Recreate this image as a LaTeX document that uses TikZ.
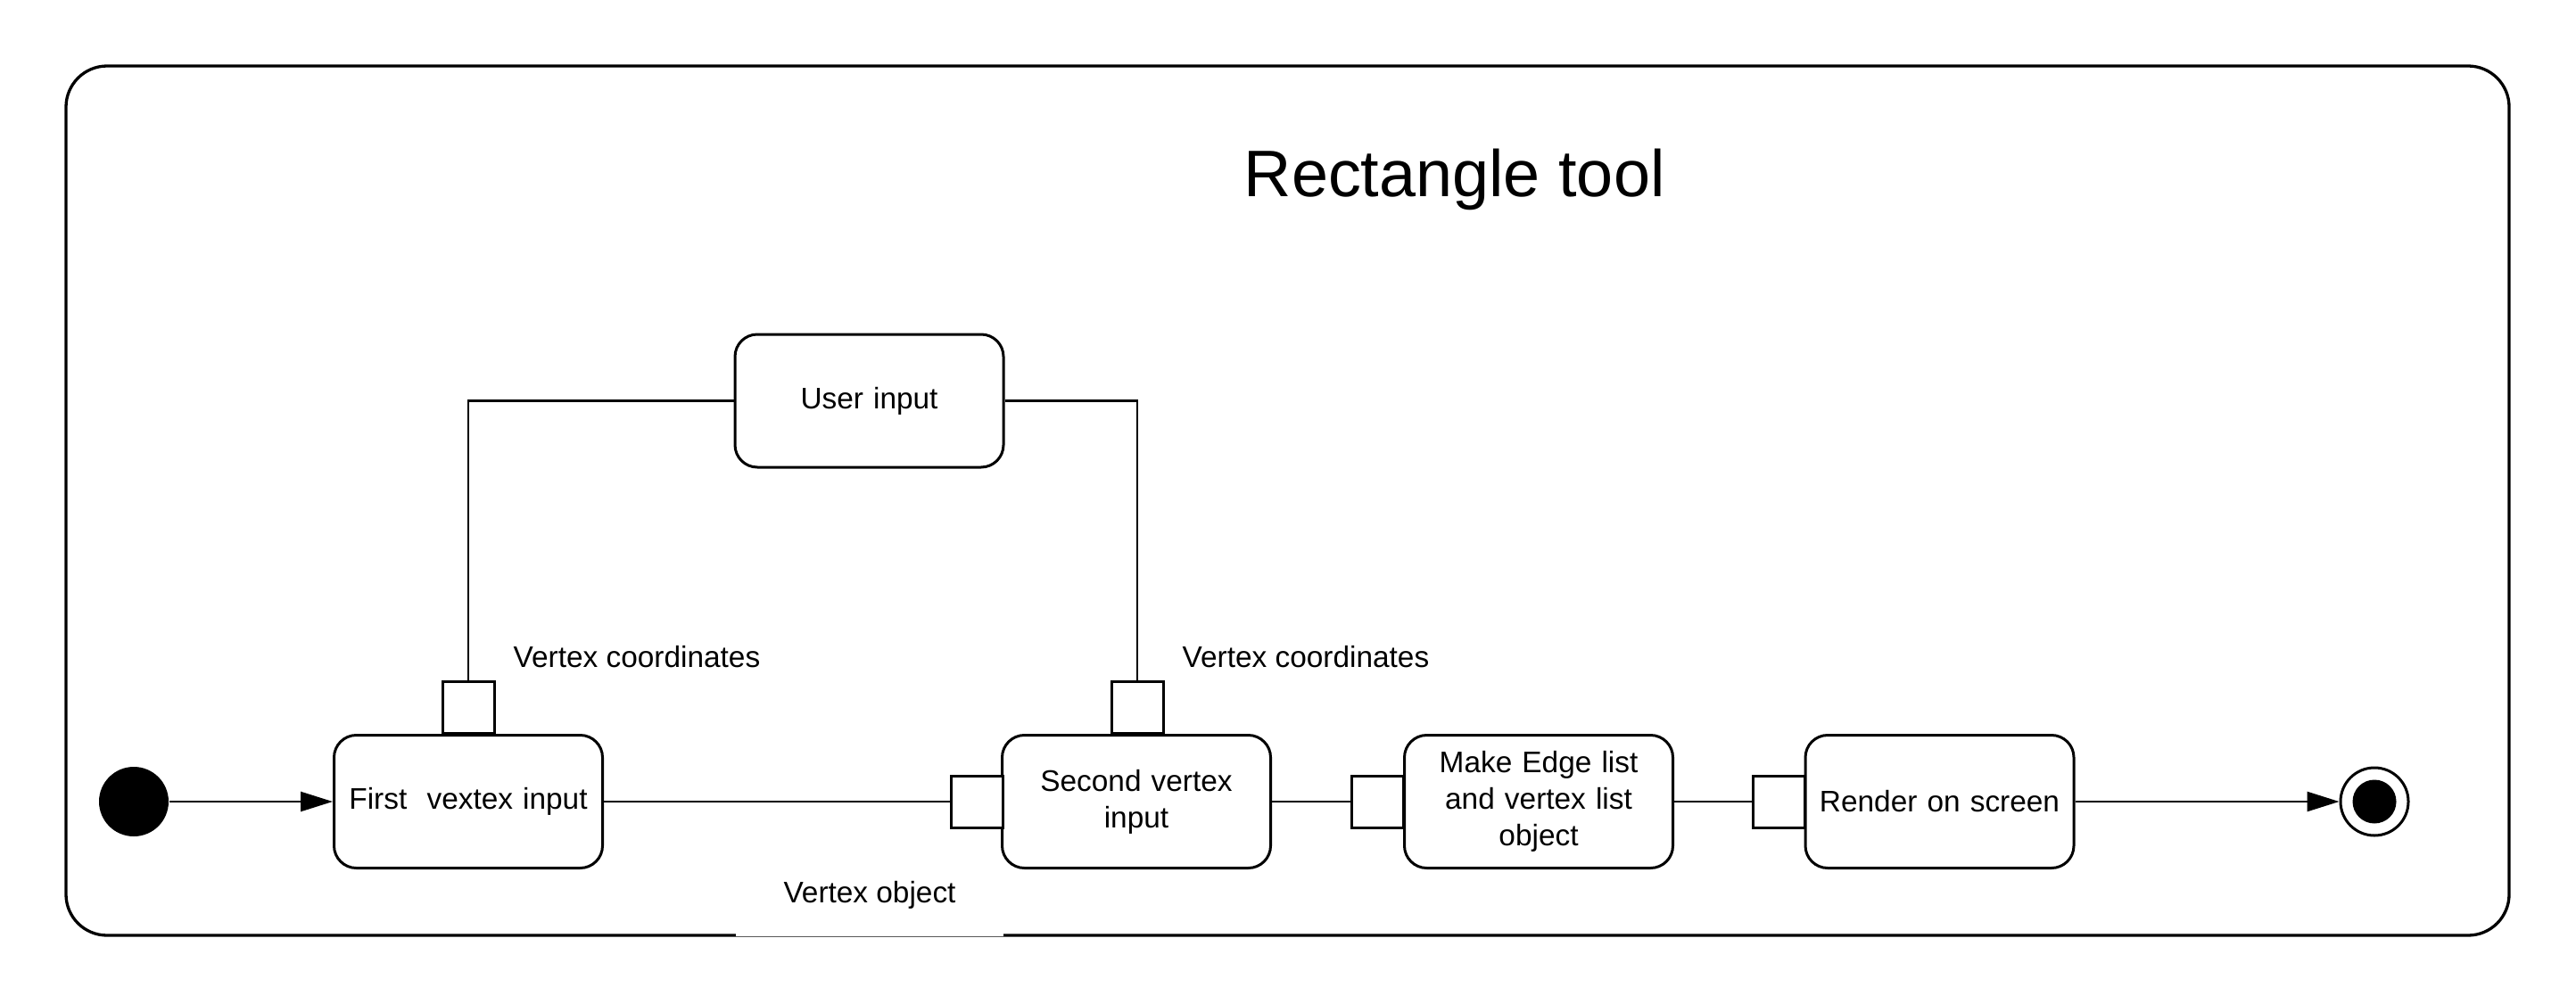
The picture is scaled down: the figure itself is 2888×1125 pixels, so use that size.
\documentclass[tikz,border=0pt]{standalone}
\usepackage{fontspec}
\setmainfont{Liberation Sans}
\usetikzlibrary{arrows.meta}
\begin{document}
\begin{tikzpicture}[x=0.1mm,y=-0.1mm,
 act/.style={draw, line width=0.3mm, rounded corners=2.5mm, minimum width=30.1mm, minimum height=14.9mm, align=center, font=\fontsize{9.5}{11.6}\selectfont, inner sep=0pt, text width=28.5mm},
 pinbox/.style={draw, line width=0.3mm, minimum width=5.8mm, minimum height=5.8mm, inner sep=0pt, fill=white},
 conn/.style={line width=0.25mm},
 arr/.style={conn, -{Triangle[length=3.6mm, width=2.2mm]}},
 lbl/.style={font=\fontsize{9.5}{11.6}\selectfont, inner sep=0pt},
]
\useasboundingbox (0,0) rectangle (2888,1125);
\draw[line width=0.33mm, rounded corners=4.6mm] (74,74) rectangle (2813,1049);
\fill[white] (825,1030) rectangle (1125,1049.8);

\node[font=\fontsize{21}{25}\selectfont, anchor=base west, inner sep=0pt] (title) at (1394,220) {Rectangle tool};

\node[act] (user) at (974.5,449.5) {User input};
\node[act] (first) at (525,899) {First\ \ vextex input};
\node[act] (second) at (1274,899) {Second vertex\\input};
\node[act] (make) at (1725,899) {Make Edge list\\and vertex list\\object};
\node[act] (render) at (2174.5,899) {Render on screen};

\node[pinbox] (p1) at (525,793) {};
\node[pinbox] (p2) at (1275,793) {};
\node[pinbox] (p3) at (1095,899) {};
\node[pinbox] (p4) at (1544,899) {};
\node[pinbox] (p5) at (1994.5,899) {};

\node[circle, fill=black, minimum size=7.8mm, inner sep=0pt] (start) at (150,899) {};
\node[circle, draw, line width=0.3mm, minimum size=7.6mm, inner sep=0pt] (end) at (2662,899) {};
\node[circle, fill=black, minimum size=4.9mm, inner sep=0pt] (endin) at (end) {};

\draw[arr] (start) -- (first);
\draw[conn] (first) -- (p3);
\draw[conn] (second) -- (p4);
\draw[conn] (make) -- (p5);
\draw[arr] (render) -- (end);
\draw[conn] (user.west) -| (p1.north);
\draw[conn] (user.east) -| (p2.north);

\node[lbl, anchor=base west] (vc1) at (575,748) {Vertex coordinates};
\node[lbl, anchor=base west] (vc2) at (1325,748) {Vertex coordinates};
\node[lbl, anchor=base] (vo) at (975,1012) {Vertex object};
\end{tikzpicture}
\end{document}
